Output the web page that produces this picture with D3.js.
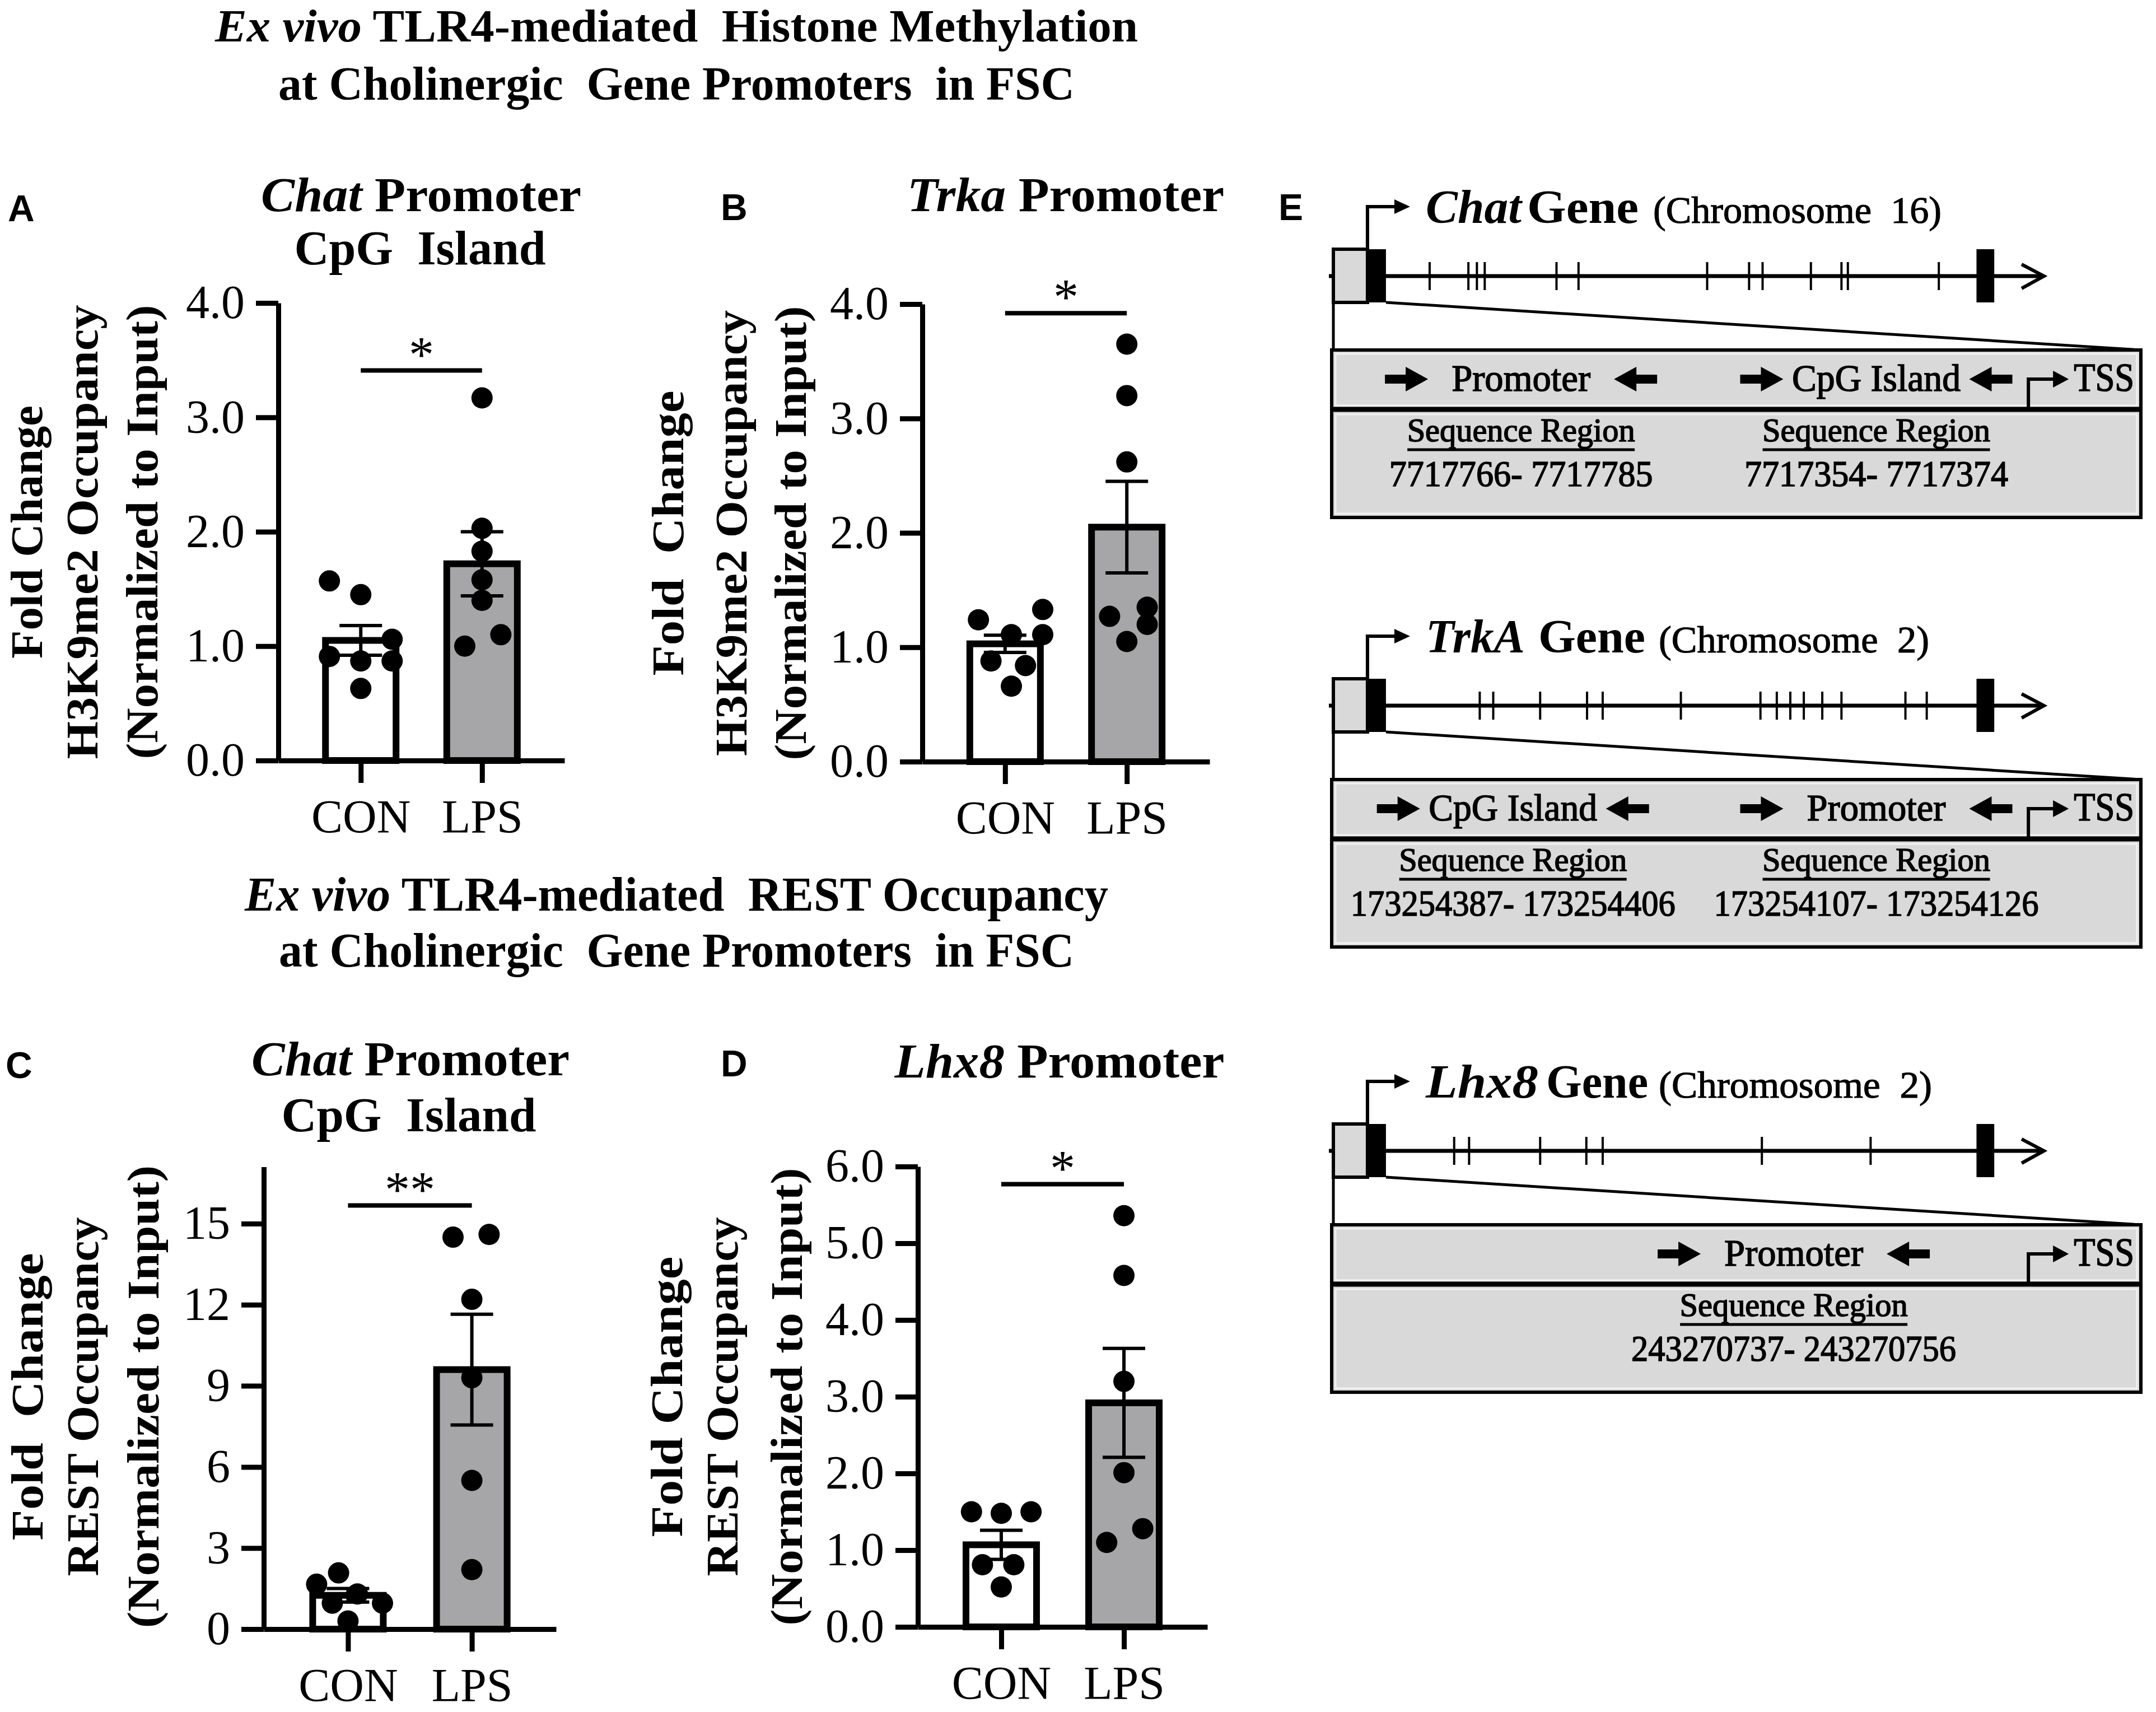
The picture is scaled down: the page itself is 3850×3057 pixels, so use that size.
<!DOCTYPE html>
<html><head><meta charset="utf-8">
<script src="https://cdn.jsdelivr.net/npm/d3@7"></script>
<style>
html,body{margin:0;padding:0;background:#fff;}
svg{display:block;}
text{white-space:pre;}
</style></head><body>
<svg id="fig" width="3850" height="3057"></svg>
<script>
// ---------------- DATA ----------------
const categories = ["CON", "LPS"];

// Panel A: Chat promoter CpG island, H3K9me2
const aMeans = [1.05, 1.72];
const aSem = [0.13, 0.28];
const aConVals = [1.57, 1.45, 1.06, 0.91, 0.87, 0.87, 0.63];
const aConLane = [-2, 0, 2, -2, 0, 2, 0];
const aLpsVals = [3.17, 2.03, 1.83, 1.58, 1.40, 1.00, 1.10];
const aLpsLane = [0, 0, 0, 0, 0, -1.1, 1.2];
const aTicks = [0, 1, 2, 3, 4];
const aSig = 3.41;

// Panel B: Trka promoter, H3K9me2
const bMeans = [1.03, 2.05];
const bSem = [0.075, 0.40];
const bConVals = [1.24, 1.33, 1.11, 1.11, 0.88, 0.84, 0.66];
const bConLane = [-1.7, 2.4, 0.4, 2.4, -0.9, 1.3, 0.4];
const bLpsVals = [3.65, 3.20, 2.62, 1.27, 1.35, 1.20, 1.05];
const bLpsLane = [0, 0, 0, -1.1, 1.3, 1.3, 0];
const bTicks = [0, 1, 2, 3, 4];
const bSig = 3.92;

// Panel C: Chat promoter CpG island, REST
const cMeans = [1.25, 9.6];
const cSem = [0.25, 2.05];
const cConVals = [1.66, 2.08, 0.96, 1.30, 0.96, 0.30];
const cConLane = [-2, -0.6, -1, 0.6, 2.2, 0];
const cLpsVals = [14.5, 14.6, 12.2, 9.3, 5.5, 2.2];
const cLpsLane = [-1.2, 1.1, 0, 0, 0, 0];
const cTicks = [0, 3, 6, 9, 12, 15];
const cSig = 15.67;

// Panel D: Lhx8 promoter, REST
const dMeans = [1.07, 2.92];
const dSem = [0.19, 0.71];
const dConVals = [1.50, 1.48, 1.50, 0.81, 0.81, 0.52];
const dConLane = [-1.9, 0, 1.9, -1.2, 0.8, 0];
const dLpsVals = [5.36, 4.58, 3.20, 2.01, 1.10, 1.28];
const dLpsLane = [0, 0, 0, 0, -1.1, 1.2];
const dTicks = [0, 1, 2, 3, 4, 5, 6];
const dSig = 5.77;

// Panel E: gene structures (schematic units 0-100 along gene)
const geneNames = ["Chat", "TrkA", "Lhx8"];
const geneChrom = ["(Chromosome  16)", "(Chromosome  2)", "(Chromosome  2)"];
const chatExons = [13.55, 19.0, 20.2, 21.3, 31.4, 34.5, 52.6, 58.5, 60.4, 67.2, 71.5, 72.4, 85.2];
const trkaExons = [20.6, 22.5, 29.1, 35.7, 37.9, 48.9, 60.1, 62.4, 64.3, 66.2, 68.8, 71.5, 80.5, 83.5];
const lhx8Exons = [17.0, 19.1, 29.1, 35.6, 37.9, 60.3, 75.6];
const utrBox = [0, 4.8];
const firstExon = [4.8, 7.4];
const lastExon = [90.5, 93.0];
// amplicons (schematic units 0-100 across zoomed box)
const chatAmpLabels = ["Promoter", "CpG Island"];
const chatAmpPos = [23.4, 67.3];
const chatRegions = ["7717766- 7717785", "7717354- 7717374"];
const trkaAmpLabels = ["CpG Island", "Promoter"];
const trkaAmpPos = [22.4, 67.3];
const trkaRegions = ["173254387- 173254406", "173254107- 173254126"];
const lhx8AmpLabels = ["Promoter"];
const lhx8AmpPos = [57.1];
const lhx8Regions = ["243270737- 243270756"];
const tssPos = 86.1;

// ---------------- STYLE ----------------
const SERIF = "'Liberation Serif','Times New Roman',Times,serif";
const SANS = "'Liberation Sans',Arial,Helvetica,sans-serif";
const GRAY = "#a6a6a8";
const LIGHT = "#d9d9d9";
const BW = 126, LANE = 28, R = 19;

const svg = d3.select("#fig");
svg.append("rect").attr("width", 3850).attr("height", 3057).attr("fill", "#fff");

function rich(parent, x, y, parts, size, weight, anchor, len) {
  const t = parent.append("text").attr("x", x).attr("y", y)
    .attr("font-family", SERIF).attr("font-size", size).attr("font-weight", weight)
    .attr("text-anchor", anchor || "middle").attr("fill", "#000");
  parts.forEach(p => t.append("tspan").attr("font-style", p.i ? "italic" : "normal").text(p.t));
  if (len) t.attr("textLength", len).attr("lengthAdjust", "spacingAndGlyphs");
  return t;
}
function heavy(t, w) { return t.attr("stroke", "#000").attr("stroke-width", w || 1.6); }

// ---------------- Headings ----------------
rich(svg, 1208, 74, [{t: "Ex vivo", i: true}, {t: " TLR4-mediated  Histone Methylation"}], 82, "bold", "middle", 1648);
rich(svg, 1208, 178, [{t: "at Cholinergic  Gene Promoters  in FSC"}], 84, "bold", "middle", 1422);
rich(svg, 1208, 1626, [{t: "Ex vivo", i: true}, {t: " TLR4-mediated  REST Occupancy"}], 86, "bold", "middle", 1542);
rich(svg, 1208, 1726, [{t: "at Cholinergic  Gene Promoters  in FSC"}], 86, "bold", "middle", 1420);

[["A", 14, 395], ["B", 1287, 393], ["E", 2283, 393], ["C", 10, 1925], ["D", 1287, 1922]].forEach(d => {
  svg.append("text").attr("x", d[1]).attr("y", d[2]).attr("font-family", SANS)
    .attr("font-weight", "bold").attr("font-size", 66).attr("fill", "#000").text(d[0]);
});

// ---------------- Bar panels ----------------
function drawPanel(p) {
  const g = svg.append("g");
  const x = d3.scalePoint().domain(categories).range([p.x0, p.x1]).padding(0.68);
  const y = d3.scaleLinear().domain([0, p.yMax]).range([p.yBase, p.yTop]);

  // titles
  p.title.forEach(tl => rich(g, tl.cx, tl.y, tl.parts, 86, "bold", "middle", tl.len));
  // y titles
  p.ylab.forEach(l => {
    g.append("text").attr("transform", `translate(${l.x},${p.ymid}) rotate(-90)`)
      .attr("text-anchor", "middle").attr("dominant-baseline", "central")
      .attr("font-family", SERIF).attr("font-weight", "bold").attr("font-size", 80)
      .attr("textLength", l.len).attr("lengthAdjust", "spacingAndGlyphs").text(l.t);
  });

  // bars
  g.selectAll("rect.bar").data(categories).join("rect").attr("class", "bar")
    .attr("x", c => x(c) - BW / 2).attr("y", (c, i) => y(p.means[i]))
    .attr("width", BW).attr("height", (c, i) => y(0) - y(p.means[i]))
    .attr("fill", (c, i) => i ? GRAY : "#fff").attr("stroke", "#000").attr("stroke-width", 12);

  // error bars
  const eb = g.selectAll("g.eb").data(categories).join("g").attr("class", "eb")
    .attr("stroke", "#000").attr("stroke-width", 6);
  eb.append("line").attr("x1", c => x(c)).attr("x2", c => x(c))
    .attr("y1", (c, i) => y(p.means[i] - p.sem[i])).attr("y2", (c, i) => y(p.means[i] + p.sem[i]));
  [-1, 1].forEach(s => {
    eb.append("line").attr("x1", c => x(c) - 38).attr("x2", c => x(c) + 38)
      .attr("y1", (c, i) => y(p.means[i] + s * p.sem[i])).attr("y2", (c, i) => y(p.means[i] + s * p.sem[i]));
  });

  // axes
  const ya = g.append("g").attr("transform", `translate(${p.x0},0)`)
    .call(d3.axisLeft(y).tickValues(p.ticks).tickFormat(p.fmt).tickSize(40).tickPadding(20).tickSizeOuter(0));
  const xa = g.append("g").attr("transform", `translate(0,${p.yBase})`)
    .call(d3.axisBottom(x).tickSize(40).tickPadding(29).tickSizeOuter(0));
  [ya, xa].forEach(a => {
    a.attr("font-size", null).attr("font-family", null);
    a.selectAll("path,line").attr("stroke", "#000").attr("stroke-width", 9);
    a.selectAll("text").attr("font-family", SERIF).attr("font-size", 84).attr("fill", "#000");
  });

  // dots
  const pts = [];
  p.vals.forEach((arr, i) => arr.forEach((v, j) => pts.push({c: categories[i], v: v, lane: p.lanes[i][j]})));
  g.selectAll("circle").data(pts).join("circle")
    .attr("cx", d => x(d.c) + d.lane * LANE).attr("cy", d => y(d.v)).attr("r", R).attr("fill", "#000");

  // significance
  const sy = y(p.sig);
  g.append("line").attr("x1", x("CON")).attr("x2", x("LPS")).attr("y1", sy).attr("y2", sy)
    .attr("stroke", "#000").attr("stroke-width", 8);
  g.append("text").attr("x", (x("CON") + x("LPS")) / 2).attr("y", sy + 2)
    .attr("text-anchor", "middle").attr("font-family", SERIF).attr("font-size", 90)
    .text(p.stars);
}

const fmt1 = d3.format(".1f");
const fmt0 = d3.format("d");

drawPanel({
  x0: 497, x1: 1008, yBase: 1358, yTop: 541, yMax: 4, ymid: 950,
  means: aMeans, sem: aSem, vals: [aConVals, aLpsVals], lanes: [aConLane, aLpsLane],
  ticks: aTicks, fmt: fmt1, sig: aSig, stars: "*",
  title: [{cx: 752, y: 377, parts: [{t: "Chat", i: true}, {t: " Promoter"}], len: 572},
          {cx: 750, y: 472, parts: [{t: "CpG  Island"}], len: 449}],
  ylab: [{x: 48, t: "Fold Change", len: 452}, {x: 147, t: "H3K9me2 Occupancy", len: 811},
         {x: 254, t: "(Normalized to Input)", len: 811}]
});
drawPanel({
  x0: 1647, x1: 2160, yBase: 1360, yTop: 543, yMax: 4, ymid: 952,
  means: bMeans, sem: bSem, vals: [bConVals, bLpsVals], lanes: [bConLane, bLpsLane],
  ticks: bTicks, fmt: fmt1, sig: bSig, stars: "*",
  title: [{cx: 1903, y: 377, parts: [{t: "Trka", i: true}, {t: " Promoter"}], len: 566}],
  ylab: [{x: 1193, t: "Fold  Change", len: 509}, {x: 1306, t: "H3K9me2 Occupancy", len: 796},
         {x: 1412, t: "(Normalized to Input)", len: 811}]
});
drawPanel({
  x0: 471, x1: 993, yBase: 2909, yTop: 2909 - 48.27 * 17.1, yMax: 17.1, ymid: 2494,
  means: cMeans, sem: cSem, vals: [cConVals, cLpsVals], lanes: [cConLane, cLpsLane],
  ticks: cTicks, fmt: fmt0, sig: cSig, stars: "**",
  title: [{cx: 733, y: 1920, parts: [{t: "Chat", i: true}, {t: " Promoter"}], len: 568},
          {cx: 730, y: 2020, parts: [{t: "CpG  Island"}], len: 455}],
  ylab: [{x: 49, t: "Fold  Change", len: 513}, {x: 148, t: "REST Occupancy", len: 641},
         {x: 256, t: "(Normalized to Input)", len: 826}]
});
drawPanel({
  x0: 1639, x1: 2156, yBase: 2905, yTop: 2083, yMax: 6, ymid: 2494,
  means: dMeans, sem: dSem, vals: [dConVals, dLpsVals], lanes: [dConLane, dLpsLane],
  ticks: dTicks, fmt: fmt1, sig: dSig, stars: "*",
  title: [{cx: 1892, y: 1924, parts: [{t: "Lhx8", i: true}, {t: " Promoter"}], len: 589}],
  ylab: [{x: 1191, t: "Fold Change", len: 501}, {x: 1290, t: "REST Occupancy", len: 641},
         {x: 1405, t: "(Normalized to Input)", len: 817}]
});

// ---------------- Panel E ----------------
const gx = d3.scaleLinear().domain([0, 100]).range([2381, 3650]);
const sx = d3.scaleLinear().domain([0, 100]).range([2378, 3823]);

function blockArrow(g, tipX, cy, dir) {
  const L = 77, H = 40, hh = 22, sh = 8;
  const tail = tipX - dir * L, neck = tipX - dir * H;
  g.append("path").attr("d",
    `M${tail},${cy - sh} L${neck},${cy - sh} L${neck},${cy - hh} L${tipX},${cy} L${neck},${cy + hh} L${neck},${cy + sh} L${tail},${cy + sh} Z`)
    .attr("fill", "#000");
}

function drawGene(k, exons, ampLabels, ampPos, regions, lineY, layout) {
  const g = svg.append("g");
  const top = lineY - 48, bot = lineY + 47;
  // title
  rich(g, layout.name[0], lineY - 95, [{t: geneNames[k], i: true}], 85, "bold", "start", layout.name[1]);
  rich(g, layout.gene[0], lineY - 95, [{t: "Gene"}], 85, "bold", "start", layout.gene[1]);
  heavy(rich(g, layout.chrom[0], lineY - 95, [{t: geneChrom[k]}], 68, "normal", "start", layout.chrom[1]), 1.2);
  // TSS arrow above gene
  const tx = gx(firstExon[0]);
  g.append("path").attr("d", `M${tx},${top} V${lineY - 124} H${tx + 52}`)
    .attr("fill", "none").attr("stroke", "#000").attr("stroke-width", 6);
  g.append("path").attr("d", `M${tx + 48},${lineY - 137} L${tx + 76},${lineY - 124} L${tx + 48},${lineY - 111} Z`).attr("fill", "#000");
  // main line
  g.append("line").attr("x1", gx(0) - 8).attr("x2", gx(100) - 3).attr("y1", lineY).attr("y2", lineY)
    .attr("stroke", "#000").attr("stroke-width", 7);
  g.append("path").attr("d", `M${gx(100) - 40},${lineY - 21} L${gx(100)},${lineY} L${gx(100) - 40},${lineY + 22}`)
    .attr("fill", "none").attr("stroke", "#000").attr("stroke-width", 6);
  // exon ticks
  g.selectAll("line.ex").data(exons).join("line").attr("class", "ex")
    .attr("x1", d => gx(d)).attr("x2", d => gx(d)).attr("y1", lineY - 25).attr("y2", lineY + 25)
    .attr("stroke", "#000").attr("stroke-width", 4);
  // UTR box and exons
  g.append("rect").attr("x", gx(utrBox[0])).attr("y", top).attr("width", gx(utrBox[1]) - gx(utrBox[0]))
    .attr("height", bot - top).attr("fill", LIGHT).attr("stroke", "#000").attr("stroke-width", 6);
  [firstExon, lastExon].forEach(e => g.append("rect").attr("x", gx(e[0])).attr("y", top)
    .attr("width", gx(e[1]) - gx(e[0])).attr("height", bot - top).attr("fill", "#000"));
  // zoom lines
  const bTop = lineY + 132, div = lineY + 238, bBot = lineY + 431;
  g.append("line").attr("x1", gx(0)).attr("x2", gx(0)).attr("y1", bot).attr("y2", bTop)
    .attr("stroke", "#000").attr("stroke-width", 5);
  g.append("line").attr("x1", gx(firstExon[1])).attr("x2", sx(100)).attr("y1", bot).attr("y2", bTop)
    .attr("stroke", "#000").attr("stroke-width", 5);
  // expanded box
  g.append("rect").attr("x", sx(0)).attr("y", bTop).attr("width", sx(100) - sx(0)).attr("height", bBot - bTop)
    .attr("fill", LIGHT).attr("stroke", "#000").attr("stroke-width", 6);
  g.append("rect").attr("x", sx(0) + 7).attr("y", bTop + 7).attr("width", sx(100) - sx(0) - 14).attr("height", div - bTop - 14)
    .attr("fill", "none").attr("stroke", "#f2f2f2").attr("stroke-width", 3);
  g.append("rect").attr("x", sx(0) + 7).attr("y", div + 9).attr("width", sx(100) - sx(0) - 14).attr("height", bBot - div - 16)
    .attr("fill", "none").attr("stroke", "#f2f2f2").attr("stroke-width", 3);
  g.append("line").attr("x1", sx(0)).attr("x2", sx(100)).attr("y1", div).attr("y2", div)
    .attr("stroke", "#000").attr("stroke-width", 9);
  // amplicons
  const ay = div - 54;
  ampLabels.forEach((lab, i) => {
    const c = sx(ampPos[i]);
    blockArrow(g, c - 166, ay, 1);
    blockArrow(g, c + 166, ay, -1);
    heavy(rich(g, c, div - 33, [{t: lab}], 68, "normal", "middle", lab === "Promoter" ? 248 : 301));
    heavy(rich(g, c, div + 57, [{t: "Sequence Region"}], 60, "normal", "middle", 407));
    g.append("line").attr("x1", c - 203).attr("x2", c + 203).attr("y1", div + 72).attr("y2", div + 72)
      .attr("stroke", "#000").attr("stroke-width", 5);
    heavy(rich(g, c, div + 137, [{t: regions[i]}], 66, "normal", "middle", regions[i].length > 17 ? 580 : 471));
  });
  // TSS in box
  const tsx = sx(tssPos);
  g.append("path").attr("d", `M${tsx},${div} V${ay} H${tsx + 48}`)
    .attr("fill", "none").attr("stroke", "#000").attr("stroke-width", 6);
  g.append("path").attr("d", `M${tsx + 44},${ay - 15} L${tsx + 72},${ay} L${tsx + 44},${ay + 15} Z`).attr("fill", "#000");
  heavy(rich(g, tsx + 81, div - 33, [{t: "TSS"}], 72, "normal", "start", 108));
}

drawGene(0, chatExons, chatAmpLabels, chatAmpPos, chatRegions, 493,
  {name: [2546, 171], gene: [2727, 199], chrom: [2952, 515]});
drawGene(1, trkaExons, trkaAmpLabels, trkaAmpPos, trkaRegions, 1260,
  {name: [2546, 177], gene: [2747, 191], chrom: [2962, 483]});
drawGene(2, lhx8Exons, lhx8AmpLabels, lhx8AmpPos, lhx8Regions, 2055,
  {name: [2546, 201], gene: [2761, 182], chrom: [2962, 488]});
</script>
</body></html>
